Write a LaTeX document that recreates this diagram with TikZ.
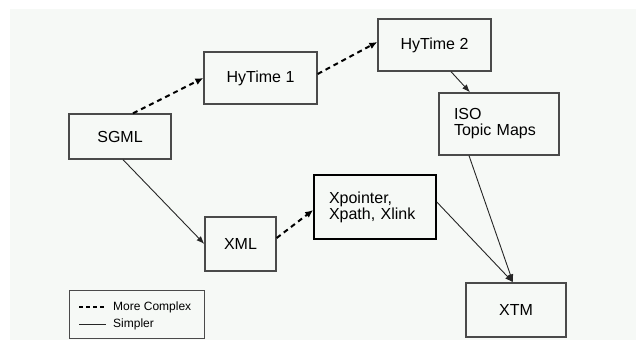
\documentclass[tikz,border=0pt]{standalone}
\usepackage{fontspec}
\setmainfont{Liberation Sans}
\usetikzlibrary{arrows.meta,calc}
\definecolor{bg}{HTML}{F6F9F6}
\definecolor{boxline}{HTML}{4A4A4A}
\begin{document}
\begin{tikzpicture}[x=1pt,y=-1pt,
  box/.style={draw=boxline,line width=1.3pt,rectangle,inner sep=0pt,font=\fontsize{16}{17}\selectfont},
  leftbox/.style={box,align=left,font=\fontsize{16}{16}\selectfont,inner xsep=15pt},
  simple/.style={draw=black!85,line width=0.9pt,-{Latex[length=8pt,width=6pt]}},
  complex/.style={draw=black,line width=2pt,dash pattern=on 5pt off 4pt,-{Latex[length=8pt,width=7pt]}},
  legtext/.style={font=\fontsize{12}{12}\selectfont,anchor=west,inner sep=0pt}]
\useasboundingbox (0,0) rectangle (636,340);
\fill[white] (0,0) rectangle (636,340);
\fill[bg] (10,9) rectangle (636,340);

\node[box,minimum width=102pt,minimum height=45pt] (sgml) at (120,136.5) {SGML};
\node[box,minimum width=113pt,minimum height=52pt] (hy1) at (260.5,78) {HyTime 1};
\node[box,minimum width=113pt,minimum height=52pt] (hy2) at (434.5,45) {HyTime 2};
\node[leftbox,text width=90pt,minimum height=62pt] (iso) at (499,124) {ISO\\Topic Maps};
\node[box,minimum width=71pt,minimum height=54pt] (xml) at (240.5,244) {XML};
\node[leftbox,draw=black,line width=1.6pt,text width=92pt,minimum height=64pt] (xp) at (375,207) {Xpointer,\\Xpath, Xlink};
\node[box,minimum width=100pt,minimum height=54pt] (xtm) at (516,310) {XTM};

\node[draw=boxline,line width=1pt,minimum width=135pt,minimum height=48pt,inner sep=0pt] (legend) at (136.5,314) {};
\coordinate (la) at (79,307);
\coordinate (lb) at (106,307);
\coordinate (lc) at (79,324);
\coordinate (ld) at (106,324);
\draw[black,line width=1.6pt,dash pattern=on 4pt off 3pt] (la) -- (lb);
\draw[black!85,line width=0.9pt] (lc) -- (ld);
\node[legtext] (lt1) at (113,307) {More Complex};
\node[legtext] (lt2) at (113,324) {Simpler};

\draw[complex] ($(sgml.north)+(13,0)$) -- (hy1.west);
\draw[complex] ($(hy1.east)+(0,-4)$) -- ($(hy2.west)+(0,-3)$);
\draw[simple] ($(hy2.south)+(16.5,0)$) -- ($(iso.north)+(-29,0)$);
\draw[simple] ($(sgml.south)+(3,0)$) -- (xml.west);
\draw[complex] ($(xml.east)+(0,-6)$) -- ($(xp.west)+(0,3)$);
\draw[simple] ($(xp.east)+(0,-5)$) -- ($(xtm.north)+(-3,0)$);
\draw[simple] ($(iso.south)+(-30,0)$) -- ($(xtm.north)+(-3,0)$);
\end{tikzpicture}
\end{document}
